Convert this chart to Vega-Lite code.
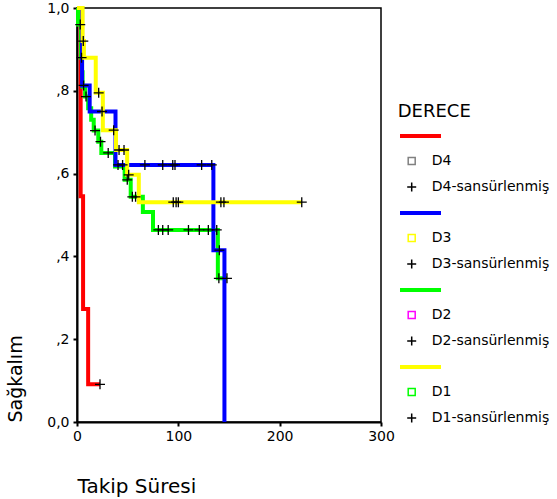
{
  "$schema": "https://vega.github.io/schema/vega-lite/v6.json",
  "width": 304,
  "height": 414,
  "autosize": {"type": "none"},
  "padding": {"left": 77, "top": 8, "right": 176, "bottom": 77},
  "background": "white",
  "config": {
    "view": {"stroke": "#000", "strokeWidth": 1.5},
    "font": "DejaVu Sans",
    "axis": {
      "domainColor": "#000", "domainWidth": 2, "tickColor": "#000", "tickWidth": 2, "tickSize": 4,
      "labelColor": "#000", "labelFont": "DejaVu Sans", "labelFontSize": 14,
      "titleFont": "DejaVu Sans", "titleFontWeight": "normal", "titleColor": "#000", "titleFontSize": 19,
      "grid": false
    }
  },
  "datasets": {
    "km": [
      {"grup": "D4", "t": 0, "S": 1},
      {"grup": "D4", "t": 3.6, "S": 0.545},
      {"grup": "D4", "t": 6, "S": 0.273},
      {"grup": "D4", "t": 11, "S": 0.091},
      {"grup": "D4", "t": 22.7, "S": 0.091},
      {"grup": "D2", "t": 0, "S": 1},
      {"grup": "D2", "t": 1, "S": 0.96},
      {"grup": "D2", "t": 4, "S": 0.88},
      {"grup": "D2", "t": 5, "S": 0.845},
      {"grup": "D2", "t": 5.5, "S": 0.81},
      {"grup": "D2", "t": 8, "S": 0.786},
      {"grup": "D2", "t": 11, "S": 0.758},
      {"grup": "D2", "t": 14, "S": 0.73},
      {"grup": "D2", "t": 16.5, "S": 0.704},
      {"grup": "D2", "t": 21, "S": 0.677},
      {"grup": "D2", "t": 24, "S": 0.65},
      {"grup": "D2", "t": 37.5, "S": 0.617},
      {"grup": "D2", "t": 47, "S": 0.585},
      {"grup": "D2", "t": 53, "S": 0.544},
      {"grup": "D2", "t": 65, "S": 0.507},
      {"grup": "D2", "t": 75, "S": 0.464},
      {"grup": "D2", "t": 139, "S": 0.347},
      {"grup": "D2", "t": 148, "S": 0.347},
      {"grup": "D3", "t": 0, "S": 1},
      {"grup": "D3", "t": 5, "S": 0.813},
      {"grup": "D3", "t": 12.5, "S": 0.75},
      {"grup": "D3", "t": 38, "S": 0.621},
      {"grup": "D3", "t": 134.6, "S": 0.415},
      {"grup": "D3", "t": 145.5, "S": 0},
      {"grup": "D1", "t": 0, "S": 1},
      {"grup": "D1", "t": 5.5, "S": 0.92},
      {"grup": "D1", "t": 6.8, "S": 0.88},
      {"grup": "D1", "t": 18.5, "S": 0.795},
      {"grup": "D1", "t": 25.5, "S": 0.705},
      {"grup": "D1", "t": 38.5, "S": 0.657},
      {"grup": "D1", "t": 49.5, "S": 0.597},
      {"grup": "D1", "t": 61, "S": 0.531},
      {"grup": "D1", "t": 221.8, "S": 0.531}
    ],
    "cens": [
      {"grup": "D4", "t": 22.7, "S": 0.091},
      {"grup": "D2", "t": 3.2, "S": 0.96},
      {"grup": "D2", "t": 4.5, "S": 0.88},
      {"grup": "D2", "t": 8.9, "S": 0.786},
      {"grup": "D2", "t": 17.8, "S": 0.704},
      {"grup": "D2", "t": 23.2, "S": 0.677},
      {"grup": "D2", "t": 30.8, "S": 0.65},
      {"grup": "D2", "t": 49.6, "S": 0.585},
      {"grup": "D2", "t": 54.6, "S": 0.544},
      {"grup": "D2", "t": 57.8, "S": 0.544},
      {"grup": "D2", "t": 80.3, "S": 0.464},
      {"grup": "D2", "t": 84.6, "S": 0.464},
      {"grup": "D2", "t": 90, "S": 0.464},
      {"grup": "D2", "t": 110, "S": 0.464},
      {"grup": "D2", "t": 120.7, "S": 0.464},
      {"grup": "D2", "t": 129.6, "S": 0.464},
      {"grup": "D2", "t": 137.9, "S": 0.464},
      {"grup": "D2", "t": 140, "S": 0.347},
      {"grup": "D2", "t": 148, "S": 0.347},
      {"grup": "D3", "t": 6.5, "S": 0.813},
      {"grup": "D3", "t": 24.7, "S": 0.75},
      {"grup": "D3", "t": 40.5, "S": 0.621},
      {"grup": "D3", "t": 45, "S": 0.621},
      {"grup": "D3", "t": 67, "S": 0.621},
      {"grup": "D3", "t": 84.6, "S": 0.621},
      {"grup": "D3", "t": 94.5, "S": 0.621},
      {"grup": "D3", "t": 96.7, "S": 0.621},
      {"grup": "D3", "t": 123, "S": 0.621},
      {"grup": "D3", "t": 133, "S": 0.621},
      {"grup": "D3", "t": 140.5, "S": 0.415},
      {"grup": "D1", "t": 6.2, "S": 0.92},
      {"grup": "D1", "t": 21.4, "S": 0.795},
      {"grup": "D1", "t": 36.2, "S": 0.705},
      {"grup": "D1", "t": 41.5, "S": 0.657},
      {"grup": "D1", "t": 46.4, "S": 0.657},
      {"grup": "D1", "t": 51, "S": 0.597},
      {"grup": "D1", "t": 95, "S": 0.531},
      {"grup": "D1", "t": 97.8, "S": 0.531},
      {"grup": "D1", "t": 100, "S": 0.531},
      {"grup": "D1", "t": 142, "S": 0.531},
      {"grup": "D1", "t": 145, "S": 0.531},
      {"grup": "D1", "t": 221.8, "S": 0.531}
    ],
    "legend": [
      {"entry": " "}, {"entry": "D4"}, {"entry": "D4-sansürlenmiş"},
      {"entry": "  "}, {"entry": "D3"}, {"entry": "D3-sansürlenmiş"},
      {"entry": "   "}, {"entry": "D2"}, {"entry": "D2-sansürlenmiş"},
      {"entry": "    "}, {"entry": "D1"}, {"entry": "D1-sansürlenmiş"}
    ]
  },
  "layer": [
    {
      "data": {"name": "km"},
      "mark": {"type": "line", "interpolate": "step-after", "strokeWidth": 4},
      "encoding": {
        "x": {
          "field": "t", "type": "quantitative",
          "scale": {"domain": [0, 300], "nice": false},
          "axis": {
            "values": [0, 100, 200, 300], "labelPadding": 3, "labelFlush": false,
            "title": "Takip Süresi", "titleAnchor": "start", "titleAlign": "left",
            "titleX": 0, "titleY": 70, "titleBaseline": "alphabetic", "titleFontSize": 20
          }
        },
        "y": {
          "field": "S", "type": "quantitative",
          "scale": {"domain": [0, 1], "nice": false},
          "axis": {
            "values": [0, 0.2, 0.4, 0.6, 0.8, 1], "labelPadding": 4,
            "labelExpr": "datum.value == 0 ? '0,0' : datum.value == 1 ? '1,0' : replace(format(datum.value, '.1f'), '0.', ',')",
            "title": "Sağkalım", "titleAngle": -90, "titleX": -62, "titleY": 414,
            "titleAlign": "left", "titleBaseline": "middle"
          }
        },
        "color": {
          "field": "grup", "type": "nominal",
          "scale": {"domain": ["D4", "D3", "D2", "D1"], "range": ["#ff0000", "#0000ff", "#00ff00", "#ffff00"]},
          "legend": null
        }
      }
    },
    {
      "data": {"name": "cens"},
      "mark": {"type": "point", "shape": "M-1,0L1,0M0,-1L0,1", "size": 100, "filled": false, "stroke": "#000", "strokeWidth": 1.3, "opacity": 1},
      "encoding": {
        "x": {"field": "t", "type": "quantitative"},
        "y": {"field": "S", "type": "quantitative"}
      }
    },
    {
      "data": {"name": "legend"},
      "transform": [{"filter": "false"}],
      "mark": {"type": "point", "filled": false, "strokeWidth": 1.5, "size": 100, "opacity": 1},
      "encoding": {
        "shape": {
          "field": "entry", "type": "nominal",
          "scale": {
            "domain": [" ", "D4", "D4-sansürlenmiş", "  ", "D3", "D3-sansürlenmiş", "   ", "D2", "D2-sansürlenmiş", "    ", "D1", "D1-sansürlenmiş"],
            "range": [
              "M-0.94,-0.25L7.26,-0.25M-0.94,0L7.26,0M-0.94,0.25L7.26,0.25", "M0.7,-0.7L2.1,-0.7L2.1,0.7L0.7,0.7Z", "M0.5,0L2.3,0M1.4,-0.9L1.4,0.9",
              "M-0.94,-0.25L7.26,-0.25M-0.94,0L7.26,0M-0.94,0.25L7.26,0.25", "M0.7,-0.7L2.1,-0.7L2.1,0.7L0.7,0.7Z", "M0.5,0L2.3,0M1.4,-0.9L1.4,0.9",
              "M-0.94,-0.25L7.26,-0.25M-0.94,0L7.26,0M-0.94,0.25L7.26,0.25", "M0.7,-0.7L2.1,-0.7L2.1,0.7L0.7,0.7Z", "M0.5,0L2.3,0M1.4,-0.9L1.4,0.9",
              "M-0.94,-0.25L7.26,-0.25M-0.94,0L7.26,0M-0.94,0.25L7.26,0.25", "M0.7,-0.7L2.1,-0.7L2.1,0.7L0.7,0.7Z", "M0.5,0L2.3,0M1.4,-0.9L1.4,0.9"
            ]
          },
          "legend": {
            "title": "DERECE", "orient": "none", "legendX": 320.7, "legendY": 95,
            "titleFont": "DejaVu Sans", "titleFontSize": 18, "titleFontWeight": "normal", "titleColor": "#000",
            "titlePadding": 8, "labelFont": "DejaVu Sans", "labelFontSize": 14, "labelColor": "#000",
            "labelOffset": 20, "rowPadding": 11, "symbolSize": 100, "symbolStrokeWidth": 1.5, "padding": 0
          }
        },
        "stroke": {
          "field": "entry", "type": "nominal",
          "scale": {
            "domain": [" ", "D4", "D4-sansürlenmiş", "  ", "D3", "D3-sansürlenmiş", "   ", "D2", "D2-sansürlenmiş", "    ", "D1", "D1-sansürlenmiş"],
            "range": ["#ff0000", "#808080", "#000000", "#0000ff", "#ffff00", "#000000", "#00ff00", "#ff00ff", "#000000", "#ffff00", "#00ff00", "#000000"]
          },
          "legend": {
            "title": "DERECE", "orient": "none", "legendX": 320.7, "legendY": 95,
            "titleFont": "DejaVu Sans", "titleFontSize": 18, "titleFontWeight": "normal", "titleColor": "#000",
            "titlePadding": 8, "labelFont": "DejaVu Sans", "labelFontSize": 14, "labelColor": "#000",
            "labelOffset": 20, "rowPadding": 11, "symbolSize": 100, "symbolStrokeWidth": 1.5, "padding": 0
          }
        }
      }
    }
  ]
}
